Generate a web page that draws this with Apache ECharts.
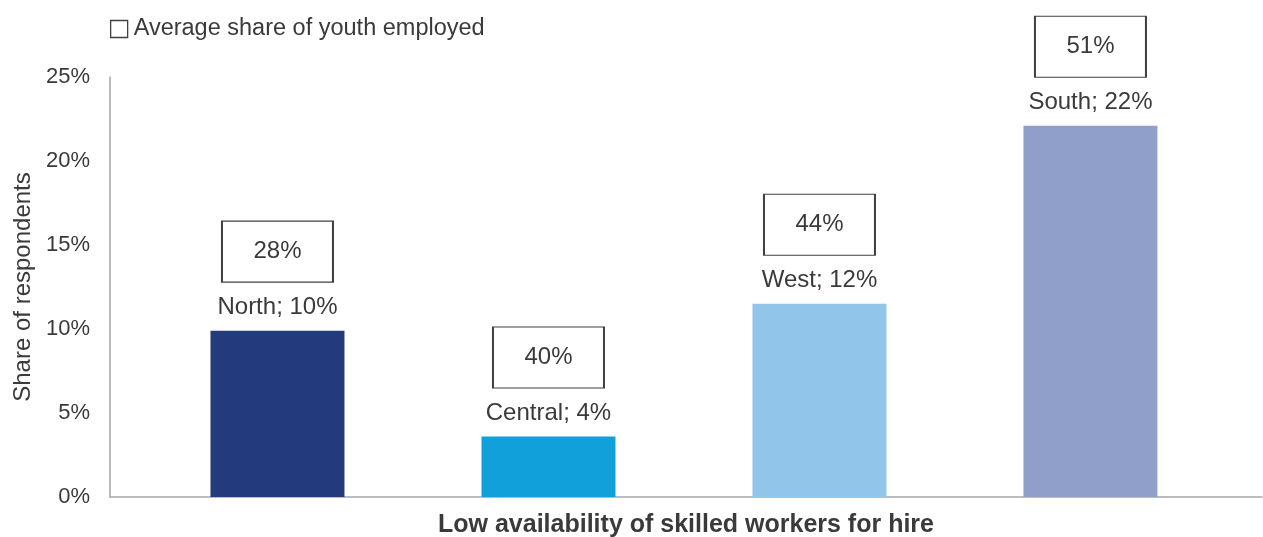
<!DOCTYPE html>
<html>
<head>
<meta charset="utf-8">
<style>
  html, body { margin: 0; padding: 0; background: #ffffff; }
  #chart { width: 1263px; height: 537px; }
</style>
<script src="https://cdn.jsdelivr.net/npm/echarts@6/dist/echarts.min.js"></script>
</head>
<body>
<div id="chart"></div>
<script>
// Regions and their share of respondents (%)
const regions = ['North', 'Central', 'West', 'South'];
const respondentShare = [9.9, 3.6, 11.5, 22.1];
// Average share of youth employed per region (%)
const youthEmployed = [28, 40, 44, 51];
const regionColors = ['#233B7C', '#12A0DB', '#91C5EA', '#8F9FCA'];
const yTicks = [0, 5, 10, 15, 20, 25];

const FONT = '"Liberation Sans", Arial, Helvetica, sans-serif';
const TEXT = '#3a3a3a';

const chart = echarts.init(document.getElementById('chart'), null, { renderer: 'canvas' });

const barData = regions.map((r, i) => ({
  value: [i, respondentShare[i]],
  itemStyle: { color: regionColors[i] }
}));
const boxData = regions.map((r, i) => ({
  value: [i, respondentShare[i]],
  youth: youthEmployed[i]
}));

chart.setOption({
  animation: false,
  textStyle: { fontFamily: FONT },
  legend: {
    data: ['Average share of youth employed'],
    left: 110,
    top: 17,
    padding: 0,
    icon: 'rect',
    itemWidth: 17,
    itemHeight: 17,
    itemStyle: { color: '#ffffff', borderColor: '#404040', borderWidth: 1.3 },
    textStyle: { fontFamily: FONT, fontSize: 23.5, color: TEXT, padding: [0, 0, 0, 1] }
  },
  grid: { left: 110, right: 1, top: 77, bottom: 40, containLabel: false, outerBoundsMode: 'none' },
  xAxis: {
    type: 'value',
    min: -0.618,
    max: 3.633,
    name: 'Low availability of skilled workers for hire',
    nameLocation: 'middle',
    nameGap: 16,
    nameTextStyle: { fontFamily: FONT, fontSize: 25, fontWeight: 'bold', color: TEXT },
    axisLine: { show: true, onZero: false, lineStyle: { color: '#a6a6a6', width: 1.5 } },
    axisTick: { show: false },
    axisLabel: { show: false },
    splitLine: { show: false }
  },
  yAxis: {
    type: 'value',
    min: yTicks[0],
    max: yTicks[yTicks.length - 1],
    interval: 5,
    name: 'Share of respondents',
    nameLocation: 'middle',
    nameGap: 71,
    nameTextStyle: { fontFamily: FONT, fontSize: 24, color: TEXT },
    axisLine: { show: true, onZero: false, lineStyle: { color: '#a6a6a6', width: 1.5 } },
    axisTick: { show: false },
    splitLine: { show: false },
    axisLabel: {
      formatter: v => v + '%',
      margin: 20,
      fontFamily: FONT,
      fontSize: 22,
      color: TEXT
    }
  },
  series: [
    {
      name: 'Share of respondents',
      type: 'bar',
      barWidth: 134,
      data: barData,
      label: {
        show: true,
        position: 'top',
        distance: 11,
        fontFamily: FONT,
        fontSize: 24,
        color: TEXT,
        formatter: p => regions[p.dataIndex] + '; ' + Math.round(p.value[1]) + '%'
      }
    },
    {
      name: 'Average share of youth employed',
      type: 'scatter',
      symbol: 'rect',
      symbolSize: [111, 61],
      symbolOffset: [0, -79],
      z: 5,
      itemStyle: { color: '#ffffff', borderColor: '#404040', borderWidth: 1.5, opacity: 1 },
      emphasis: { disabled: true },
      data: boxData,
      label: {
        show: true,
        position: 'inside',
        fontFamily: FONT,
        fontSize: 24,
        color: TEXT,
        formatter: p => p.data.youth + '%'
      }
    }
  ]
});
</script>
</body>
</html>
